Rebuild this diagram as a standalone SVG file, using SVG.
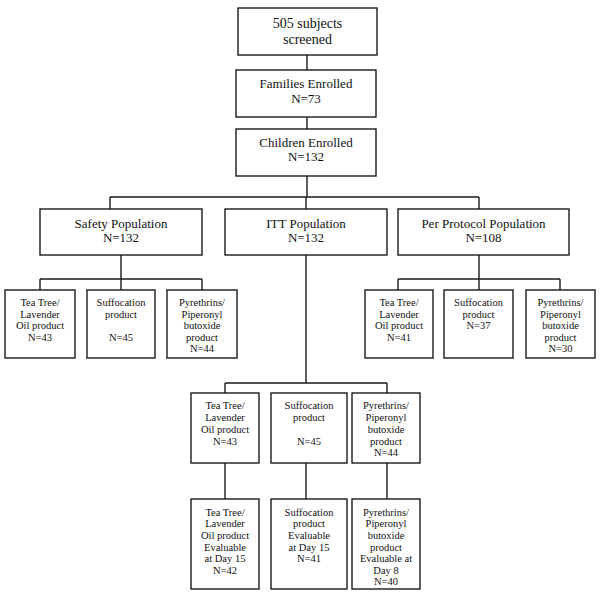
<svg xmlns="http://www.w3.org/2000/svg" width="600" height="598" viewBox="0 0 600 598">
<style>
rect{fill:#fff;stroke:#1a1a1a;stroke-width:1.4}
#connectors path{fill:none;stroke:#1a1a1a;stroke-width:1.4}
text{font-family:"Liberation Serif","Times New Roman",serif;fill:#111;text-anchor:middle}
.b{font-size:13px}
.t{font-size:14px}
.s{font-size:10.5px}
</style>
<rect x="0" y="0" width="600" height="598" style="stroke:none"/>
<g id="connectors">
<path d="M307 55V70M307 117V129M307 176V197M110 197H479M110 197V209M306 197V209M479 197V209"/>
<path d="M121 255V279M40 279H202M40 279V290M121 279V290M202 279V290"/>
<path d="M479 255V279M398 279H560M398 279V290M479 279V290M560 279V290"/>
<path d="M306 255V383M225 383H387M225 383V393M387 383V393M225 463V499M306 463V499M387 463V499"/>
</g>
<g id="screened"><rect x="238" y="8" width="139" height="47"/><text class="t" x="307.5" y="28">505 subjects</text><text class="t" x="307.5" y="44">screened</text></g>
<g id="families"><rect x="236" y="70" width="140" height="47"/><text class="b" x="306" y="88">Families Enrolled</text><text class="b" x="306" y="103">N=73</text></g>
<g id="children"><rect x="236" y="129" width="140" height="47"/><text class="b" x="306" y="147">Children Enrolled</text><text class="b" x="306" y="161">N=132</text></g>
<g id="safety"><rect x="40" y="209" width="162" height="46"/><text class="b" x="121" y="228">Safety Population</text><text class="b" x="121" y="242">N=132</text></g>
<g id="itt"><rect x="225" y="209" width="162" height="46"/><text class="b" x="306" y="228">ITT Population</text><text class="b" x="306" y="242">N=132</text></g>
<g id="pp"><rect x="398" y="209" width="171" height="46"/><text class="b" x="483.5" y="228">Per Protocol Population</text><text class="b" x="483.5" y="242">N=108</text></g>
<g id="s1"><rect x="5" y="290" width="70" height="68"/><text class="s" x="40" y="306">Tea Tree/</text><text class="s" x="40" y="318">Lavender</text><text class="s" x="40" y="329">Oil product</text><text class="s" x="40" y="341">N=43</text></g>
<g id="s2"><rect x="87" y="290" width="68" height="68"/><text class="s" x="121" y="306">Suffocation</text><text class="s" x="121" y="318">product</text><text class="s" x="121" y="341">N=45</text></g>
<g id="s3"><rect x="167" y="290" width="70" height="68"/><text class="s" x="202" y="306">Pyrethrins/</text><text class="s" x="202" y="318">Piperonyl</text><text class="s" x="202" y="329">butoxide</text><text class="s" x="202" y="341">product</text><text class="s" x="202" y="352">N=44</text></g>
<g id="p1"><rect x="365" y="290" width="68" height="68"/><text class="s" x="399" y="306">Tea Tree/</text><text class="s" x="399" y="318">Lavender</text><text class="s" x="399" y="329">Oil product</text><text class="s" x="399" y="341">N=41</text></g>
<g id="p2"><rect x="444" y="290" width="69" height="68"/><text class="s" x="478.5" y="306">Suffocation</text><text class="s" x="478.5" y="318">product</text><text class="s" x="478.5" y="329">N=37</text></g>
<g id="p3"><rect x="526" y="290" width="69" height="68"/><text class="s" x="560.5" y="306">Pyrethrins/</text><text class="s" x="560.5" y="318">Piperonyl</text><text class="s" x="560.5" y="329">butoxide</text><text class="s" x="560.5" y="341">product</text><text class="s" x="560.5" y="352">N=30</text></g>
<g id="i1"><rect x="191" y="393" width="68" height="70"/><text class="s" x="225" y="409">Tea Tree/</text><text class="s" x="225" y="421">Lavender</text><text class="s" x="225" y="433">Oil product</text><text class="s" x="225" y="445">N=43</text></g>
<g id="i2"><rect x="271" y="393" width="76" height="70"/><text class="s" x="309" y="409">Suffocation</text><text class="s" x="309" y="421">product</text><text class="s" x="309" y="445">N=45</text></g>
<g id="i3"><rect x="352" y="393" width="68" height="70"/><text class="s" x="386" y="409">Pyrethrins/</text><text class="s" x="386" y="421">Piperonyl</text><text class="s" x="386" y="433">butoxide</text><text class="s" x="386" y="445">product</text><text class="s" x="386" y="456">N=44</text></g>
<g id="e1"><rect x="191" y="499" width="68" height="90"/><text class="s" x="225" y="516">Tea Tree/</text><text class="s" x="225" y="527">Lavender</text><text class="s" x="225" y="539">Oil product</text><text class="s" x="225" y="551">Evaluable</text><text class="s" x="225" y="562">at Day 15</text><text class="s" x="225" y="574">N=42</text></g>
<g id="e2"><rect x="271" y="499" width="76" height="90"/><text class="s" x="309" y="516">Suffocation</text><text class="s" x="309" y="527">product</text><text class="s" x="309" y="539">Evaluable</text><text class="s" x="309" y="551">at Day 15</text><text class="s" x="309" y="562">N=41</text></g>
<g id="e3"><rect x="352" y="499" width="68" height="90"/><text class="s" x="386" y="516">Pyrethrins/</text><text class="s" x="386" y="527">Piperonyl</text><text class="s" x="386" y="539">butoxide</text><text class="s" x="386" y="551">product</text><text class="s" x="386" y="562">Evaluable at</text><text class="s" x="386" y="574">Day 8</text><text class="s" x="386" y="585">N=40</text></g>
</svg>
